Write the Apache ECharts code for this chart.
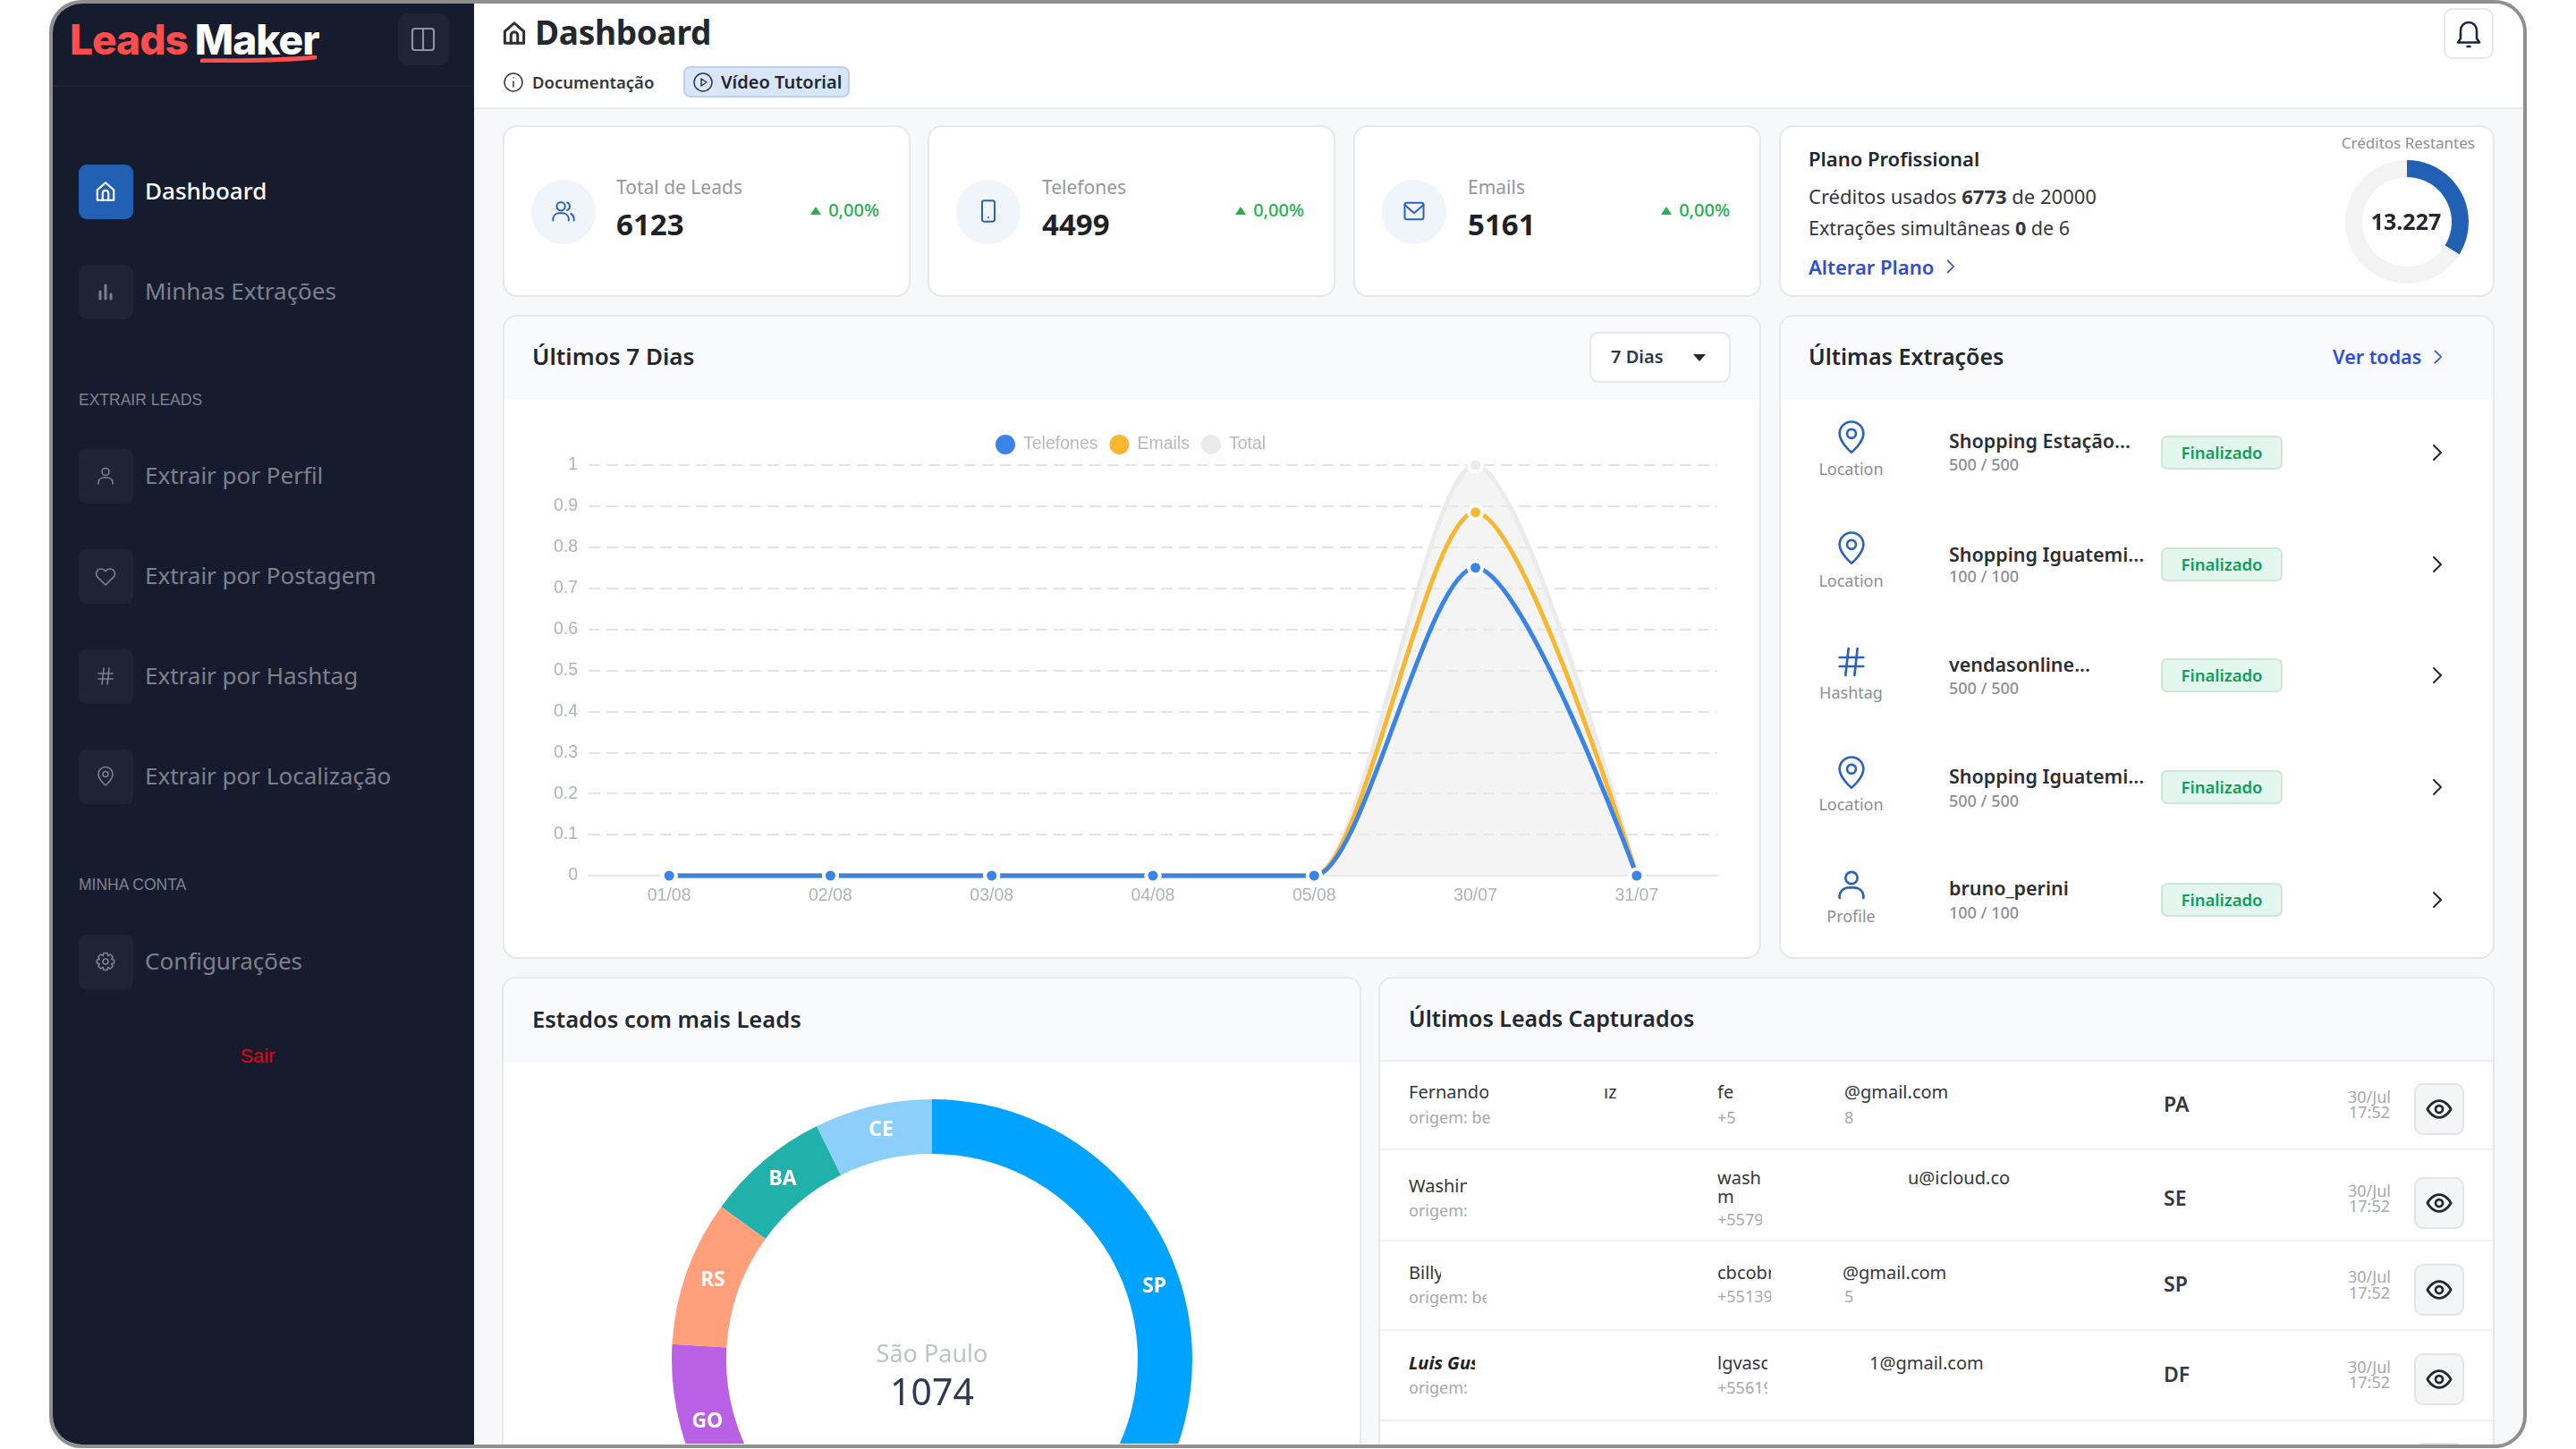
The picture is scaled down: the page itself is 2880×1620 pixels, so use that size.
<!DOCTYPE html>
<html>
<head>
<meta charset="utf-8">
<title>LeadsMaker Dashboard</title>
<script src="https://cdn.jsdelivr.net/npm/echarts@6/dist/echarts.min.js"></script>
<style>
html,body{margin:0;padding:0;width:2880px;height:1620px;background:#fff;overflow:hidden;font-family:"Noto Sans",sans-serif;}
#frame{position:absolute;left:55px;top:0;width:2770px;height:1619px;box-sizing:border-box;border:4px solid #8f8f8f;border-radius:36px;overflow:hidden;background:#f6f8fa;}
#screen{position:absolute;left:-59px;top:-4px;width:2880px;height:1620px;}
.a{position:absolute;box-sizing:border-box;}
.t{position:absolute;white-space:nowrap;line-height:1.2;}
.card{position:absolute;box-sizing:border-box;background:#fff;border:2px solid #e6e8eb;border-radius:16px;overflow:hidden;}
.head{position:absolute;left:0;right:0;top:0;background:#f9fafd;}
svg{position:absolute;fill:none;stroke-linecap:round;stroke-linejoin:round;}
</style>
</head>
<body>
<div id="frame"><div id="screen"></div></div>
<script>
// chart data
var days = ['01/08','02/08','03/08','04/08','05/08','30/07','31/07'];
var telefones = [0,0,0,0,0,0.75,0];
var emails = [0,0,0,0,0,0.885,0];
var total = [0,0,0,0,0,1,0];
var stateNames = ['SP','Outros','GO','RS','BA','CE'];
var stateValues = [1074,686,279,243,207,196];
var creditsUsed = 6773;
var creditsLeft = 13227;

// page content
var navMain = [['Minhas Extrações',326,'bars']];
var navExtract = [['Extrair por Perfil',532,'user'],['Extrair por Postagem',644,'heart'],['Extrair por Hashtag',756,'hash'],['Extrair por Localização',868,'pin']];
var kpis = [['Total de Leads','6123',562,456,'users'],['Telefones','4499',1037,456,'phone'],['Emails','5161',1513,456,'mail']];
var extractions = [
  ['Location','pin','Shopping Estação...','500 / 500',489,525,493,520,506],
  ['Location','pin','Shopping Iguatemi...','100 / 100',613,650,620,645,631],
  ['Hashtag','hash','vendasonline...','500 / 500',740,775,743,770,755],
  ['Location','pin','Shopping Iguatemi...','500 / 500',864,900,868,896,880],
  ['Profile','user','bruno_perini','100 / 100',989,1025,993,1021,1006]
];

var P = {
  home:'<path d="M3.5 10.5 12 3l8.5 7.5V21h-17z"/><path d="M9 21v-7a3 3 0 0 1 6 0v7"/>',
  bars:'<path d="M12 5v15M6 12v8M18 15v5" stroke-width="3"/>',
  user:'<circle cx="12" cy="7.5" r="4"/><path d="M4 21v-2a6 6 0 0 1 6-5h4a6 6 0 0 1 6 5v2"/>',
  users:'<circle cx="9.5" cy="7.5" r="4"/><path d="M2 21v-2a6 6 0 0 1 6-5h3a6 6 0 0 1 6 5v2M15.5 3.8a4 4 0 0 1 0 7.4M19 14.5a6 6 0 0 1 3 4.5v2"/>',
  heart:'<path d="M20.8 5.6a5.5 5.5 0 0 0-7.8 0L12 6.7l-1-1.1a5.5 5.5 0 0 0-7.8 7.8L12 22l8.8-8.6a5.5 5.5 0 0 0 0-7.8z"/>',
  hash:'<path d="M4 9h16M4 15h16M10 3 8 21M16 3l-2 18"/>',
  pin:'<path d="M12 22s8-6.5 8-12.5a8 8 0 0 0-16 0C4 15.500 12 22 12 22z"/><circle cx="12" cy="9.500" r="3"/>',
  phone:'<rect x="6" y="2" width="12" height="20" rx="2"/><path d="M12 18h.01"/>',
  mail:'<rect x="3" y="4" width="18" height="16" rx="2"/><path d="m3 6 9 8 9-8"/>',
  gear:'<circle cx="12" cy="12" r="3"/><path d="M10 2.500h4l.7 3 2.700-1.500 2.800 2.800L18.700 9.500l3 .7v3.600l-3 .7 1.500 2.700-2.800 2.800-2.700-1.500-.7 3h-4l-.7-3-2.700 1.500-2.800-2.800 1.500-2.700-3-.7v-3.600l3-.7L3.800 6.800l2.800-2.800 2.700 1.500z"/>',
  bell:'<path d="M18 16V10a6 6 0 0 0-12 0v6l-2 3h16z"/><path d="M11 22h2"/>',
  info:'<circle cx="12" cy="12" r="10"/><path d="M12 11v6M12 7h.01"/>',
  play:'<circle cx="12" cy="12" r="10"/><path d="m10 8 6 4-6 4z"/>',
  eye:'<path d="M1.500 12S5.500 4.500 12 4.500 22.500 12 22.500 12 18.500 19.500 12 19.500 1.500 12 1.500 12z"/><circle cx="12" cy="12" r="3.200"/>',
  panel:'<rect x="3" y="3" width="18" height="18" rx="2"/><path d="M12 3v18"/>',
  chev:'<path d="m9 4 8 8-8 8"/>'
};

var screen = document.getElementById('screen');
var html = '';
function box(x,y,w,h,css,inner){ html += '<div class="a" style="left:'+x+'px;top:'+y+'px;width:'+w+'px;height:'+h+'px;'+css+'">'+(inner||'')+'</div>'; }
function text(x,y,s,css,align){
  var tx = align=='r' ? '-100%' : (align=='c' ? '-50%' : '0');
  html += '<div class="t" style="left:'+x+'px;top:'+y+'px;transform:translate('+tx+',-50%);'+css+'">'+s+'</div>';
}
function clipText(x,y,w,s,css){
  html += '<div class="t" style="left:'+x+'px;top:'+y+'px;width:'+w+'px;overflow:hidden;transform:translateY(-50%);'+css+'">'+s+'</div>';
}
function icon(cx,cy,size,color,name,sw){
  html += '<svg viewBox="0 0 24 24" style="left:'+(cx-size/2)+'px;top:'+(cy-size/2)+'px;width:'+size+'px;height:'+size+'px;stroke:'+color+';stroke-width:'+(sw||1.800)+'">'+P[name]+'</svg>';
}
function card(x,y,w,h,headH){
  html += '<div class="card" style="left:'+x+'px;top:'+y+'px;width:'+w+'px;height:'+h+'px;">'+(headH?'<div class="head" style="height:'+headH+'px"></div>':'')+'</div>';
}

// sidebar
box(59,4,471,1620,'background:#161c2e;');
box(59,95,471,2,'background:#1d2334;');
text(78,45,'<span style="color:#ff4d4d">Leads</span><span style="color:#fff;margin-left:8px">Maker</span>','font-size:46px;font-weight:800;letter-spacing:-1px;font-family:Inter,sans-serif;');
html += '<svg viewBox="0 0 130 8" style="left:224px;top:62px;width:130px;height:8px;stroke:#ff4d4d;stroke-width:5"><path d="M2 6C40 6 90 6 128 2"/></svg>';
box(445,15,57,58,'background:#1e2435;border-radius:10px;');
icon(473,44,32,'#8d919c','panel',1.6);
function navItem(label,y,name,active){
  box(88,y-30,61,61,'background:'+(active?'#2260b4':'#1e2435')+';border-radius:9px;');
  icon(118,y,active?26:24,active?'#fff':'#7d808c',name,active?2:1.600);
  text(162,y,label,'font-size:26px;color:'+(active?'#fff':'#7d808c')+';font-weight:'+(active?500:400)+';');
}
navItem('Dashboard',214,'home',true);
navMain.forEach(function(n){ navItem(n[0],n[1],n[2]); });
text(88,447,'EXTRAIR LEADS','font-size:17.500px;color:#7f8391;font-family:Liberation Sans,sans-serif;');
navExtract.forEach(function(n){ navItem(n[0],n[1],n[2]); });
text(88,989,'MINHA CONTA','font-size:17.500px;color:#7f8391;font-family:Liberation Sans,sans-serif;');
navItem('Configurações',1075,'gear');
text(288,1181,'Sair','font-size:22px;color:#e60012;font-family:Liberation Sans,sans-serif;','c');

// header
box(530,4,2292,118,'background:#fff;border-bottom:2px solid #e8eaed;');
icon(575,37,30,'#2b2f36','home',2.400);
text(598,36,'Dashboard','font-size:37px;font-weight:700;color:#23272e;letter-spacing:-0.3px;');
icon(574,92,24,'#33373e','info',1.500);
text(595,92,'Documentação','font-size:18.500px;font-weight:600;color:#33373e;');
box(764,74,186,35,'background:#d9e5f9;border:2px solid #bcd0f0;border-radius:8px;');
icon(786,92,24,'#33373e','play',1.500);
text(806,92,'Vídeo Tutorial','font-size:20px;font-weight:600;color:#23272e;');
box(2732,9,56,57,'background:#fff;border:2px solid #e6e8eb;border-radius:10px;');
icon(2760,37,36,'#1b2440','bell',1.700);

// kpi cards
kpis.forEach(function(k,i){
  var x = k[2];
  card(x,140,k[3],192);
  box(x+32,201,72,72,'background:#f0f4fb;border-radius:50%;');
  icon(x+68,236,28,'#2a62bd',k[4],1.700);
  text(x+(i?128:127),210,k[0],'font-size:21px;color:#93979f;');
  text(x+(i?128:127),251,k[1],'font-size:33px;font-weight:700;color:#1e2228;');
  box(x+k[3]-112,231,0,0,'border-left:6px solid transparent;border-right:6px solid transparent;border-bottom:9px solid #22b14c;');
  text(x+k[3]-35,235,'0,00%','font-size:20px;color:#22b14c;font-weight:500;','r');
});

// plan card
card(1989,140,800,192);
text(2022,177,'Plano Profissional','font-size:22px;font-weight:600;color:#23272e;');
text(2022,219,'Créditos usados <b style="font-weight:700">6773</b> de 20000','font-size:22px;color:#33373e;');
text(2022,255,'Extrações simultâneas <b style="font-weight:700">0</b> de 6','font-size:21.500px;color:#33373e;');
text(2022,298,'Alterar Plano','font-size:22px;font-weight:600;color:#2c4fd6;');
icon(2180,298,20,'#2c4fd6','chev',2);
text(2767,160,'Créditos Restantes','font-size:17px;color:#8a8f98;','r');
box(2600,170,180,160,'','<div id="gauge" style="width:180px;height:160px"></div>');

// 7 day card
card(562,352,1407,720,93);
text(595,399,'Últimos 7 Dias','font-size:26px;font-weight:600;color:#23272e;');
box(1777,371,158,57,'background:#fff;border:2px solid #e6e8eb;border-radius:10px;');
text(1801,399,'7 Dias','font-size:20px;font-weight:600;color:#33373e;');
box(1893,396,0,0,'border-left:7px solid transparent;border-right:7px solid transparent;border-top:8px solid #23272e;');
box(562,445,1406,625,'','<div id="lineChart" style="width:1406px;height:625px"></div>');

// extractions card
card(1989,352,800,720,93);
text(2022,398,'Últimas Extrações','font-size:25px;font-weight:600;color:#23272e;');
text(2608,399,'Ver todas','font-size:21.500px;font-weight:600;color:#2c4fd6;');
icon(2725,399,20,'#2c4fd6','chev',2);
extractions.forEach(function(e){
  icon(2069.500,e[4],40,'#2a62bd',e[1],1.600);
  text(2069.500,e[5],e[0],'font-size:18px;color:#8a8f98;','c');
  text(2179,e[6],e[2],'font-size:21.500px;font-weight:600;color:#2b2f36;');
  text(2179,e[7],e[3],'font-size:18px;font-weight:500;color:#8a8f98;');
  box(2416,e[8]-19,136,38,'background:#e3f7ee;border:2px solid #cfe5da;border-radius:7px;');
  text(2484,e[8],'Finalizado','font-size:18.500px;font-weight:600;color:#0f9d58;','c');
  icon(2724,e[8],24,'#23272e','chev',2);
});

// states card
card(561,1092,961,600,94);
text(595,1139,'Estados com mais Leads','font-size:25.500px;font-weight:600;color:#23272e;');
box(563,1186,956,428,'','<div id="stateChart" style="width:956px;height:428px"></div>');

// leads table
card(1541,1092,1248,600,94);
box(1543,1185,1244,2,'background:#eceef1;');
[1284,1386,1486,1587].forEach(function(y){ box(1543,y,1244,2,'background:#f1f2f4;'); });
text(1575,1138,'Últimos Leads Capturados','font-size:25px;font-weight:600;color:#23272e;');
var nameCss = 'font-size:20px;color:#33373e;';
var subCss = 'font-size:18px;color:#a4a8af;';
clipText(1575,1221,89,'Fernando',nameCss); text(1793,1221,'ız',nameCss);
clipText(1575,1250,92,'origem: be',subCss);
clipText(1920,1221,20,'fe',nameCss); text(2062,1221,'@gmail.com',nameCss);
clipText(1920,1250,20,'+5',subCss); text(2062,1250,'8',subCss);
clipText(1575,1326,65,'Washington',nameCss);
clipText(1575,1354,68,'origem: be',subCss);
clipText(1920,1317,50,'wash',nameCss); text(2133,1317,'u@icloud.co',nameCss);
text(1920,1338,'m',nameCss);
clipText(1920,1364,50,'+55791',subCss);
clipText(1575,1423,36,'Billy',nameCss);
clipText(1575,1451,87,'origem: be',subCss);
clipText(1920,1423,60,'cbcobra',nameCss); text(2060,1423,'@gmail.com',nameCss);
clipText(1920,1450,60,'+55139',subCss); text(2062,1450,'5',subCss);
clipText(1575,1524,74,'Luis Gustavo',nameCss+'font-weight:700;font-style:italic;color:#1e2228;');
clipText(1575,1552,68,'origem: be',subCss);
clipText(1920,1524,56,'lgvasco',nameCss); text(2090,1524,'1@gmail.com',nameCss);
clipText(1920,1552,56,'+55619',subCss);
[['PA',1235,1227,1244,1240],['SE',1340,1332,1349,1345],['SP',1436,1428,1446,1442],['DF',1537,1529,1546,1542]].forEach(function(r){
  text(2419,r[1],r[0],'font-size:23px;font-weight:600;color:#33373e;');
  text(2649,r[2],'30/Jul','font-size:18px;color:#a4a8af;','c');
  text(2649,r[3],'17:52','font-size:18px;color:#a4a8af;','c');
  box(2699,r[4]-29,56,58,'background:#f4f5f6;border:2px solid #e2e4e7;border-radius:10px;');
  icon(2727,r[4],30,'#23272e','eye',2.200);
});
box(2699,1613,56,10,'background:#f4f5f6;border:2px solid #e2e4e7;border-radius:10px 10px 0 0;');

screen.innerHTML = html;

// line chart
var axisFont = 'Liberation Sans, sans-serif';
function lineSeries(name,data,color,extra){
  var s = {
    name:name, type:'line', data:data, smooth:0.3, smoothMonotone:'x', clip:false,
    symbol:'circle', symbolSize:15, showSymbol:true,
    lineStyle:{color:color,width:5},
    itemStyle:{color:color,borderColor:'#fff',borderWidth:4}
  };
  if (extra) s.areaStyle = extra;
  return s;
}
var lineChart = echarts.init(document.getElementById('lineChart'));
lineChart.setOption({
  animation:false,
  legend:{
    data:['Telefones','Emails','Total'], left:546, top:36,
    icon:'circle', itemWidth:22, itemHeight:22, itemGap:13,
    textStyle:{color:'#b5bac2',fontSize:19.500,fontFamily:axisFont,padding:[0,0,0,4]},
    itemStyle:{borderWidth:0}
  },
  grid:{left:96,right:48,top:75,bottom:91},
  xAxis:{
    type:'category', data:days,
    axisLine:{lineStyle:{color:'#e6e6e6',width:2}}, axisTick:{show:false},
    axisLabel:{color:'#aeb4bd',fontSize:19.500,margin:13,fontFamily:axisFont}
  },
  yAxis:{
    type:'value', min:0, max:1, interval:0.1,
    axisLine:{show:false}, axisTick:{show:false},
    axisLabel:{color:'#aeb4bd',fontSize:19.500,margin:12,fontFamily:axisFont},
    splitLine:{lineStyle:{color:'#e4e4e4',width:2,type:[13,7]}}
  },
  series:[
    lineSeries('Total',total,'#ebebeb',{color:'#ebebeb',opacity:0.55}),
    lineSeries('Emails',emails,'#f7b731'),
    lineSeries('Telefones',telefones,'#3a84e8')
  ]
});

// credits gauge
var gauge = echarts.init(document.getElementById('gauge'));
gauge.setOption({
  animation:false,
  graphic:[{type:'text',left:'center',top:'middle',style:{text:'13.227',fontSize:25,fontWeight:700,fill:'#23272e',fontFamily:'Noto Sans'}}],
  series:[{
    type:'pie', center:[91,78], radius:[50,69], silent:true, startAngle:90,
    label:{show:false},
    data:[
      {name:'Usados',value:creditsUsed,itemStyle:{color:'#2260b4'}},
      {name:'Restantes',value:creditsLeft,itemStyle:{color:'#f3f3f3'}}
    ]
  }]
});

// states donut
var stateColors = ['#00a3ff','#4fd1a5','#ba60e4','#ffa07a','#20b2aa','#8ccffb'];
var stateChart = echarts.init(document.getElementById('stateChart'));
stateChart.setOption({
  animation:false,
  graphic:[
    {type:'text',x:479,y:329,style:{text:'São Paulo',fontSize:27,fill:'#bfc3c9',align:'center',verticalAlign:'middle',fontFamily:'Noto Sans'}},
    {type:'text',x:479,y:373,style:{text:'1074',fontSize:41,fill:'#2e3a4f',align:'center',verticalAlign:'middle',fontFamily:'Noto Sans'}}
  ],
  series:[{
    type:'pie', center:[479,334], radius:[230,291], startAngle:90, silent:true,
    label:{show:true,position:'inside',formatter:'{b}',color:'#fff',fontSize:23,fontWeight:700,fontFamily:'Noto Sans',padding:[5,0,0,6]},
    labelLine:{show:false},
    data:stateNames.map(function(n,i){
      var d = {name:n,value:stateValues[i],itemStyle:{color:stateColors[i]}};
      if (n=='Outros') d.label = {show:false};
      if (n=='SP') d.label = {padding:[10,4,0,0]};
      return d;
    })
  }]
});
</script>
</body>
</html>
